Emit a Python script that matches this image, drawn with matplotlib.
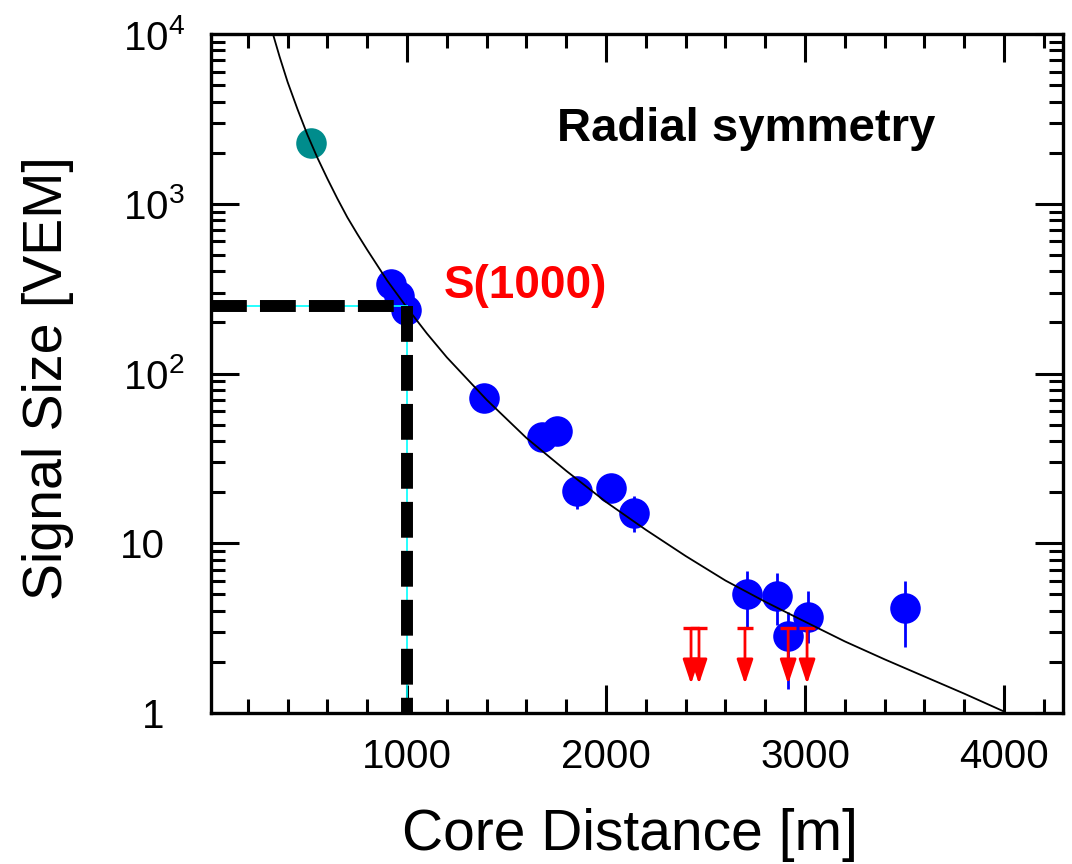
import matplotlib
matplotlib.use("Agg")
import matplotlib.pyplot as plt
from matplotlib.ticker import MultipleLocator, LogLocator, NullFormatter
from matplotlib.transforms import ScaledTranslation

plt.rcParams['font.family'] = ['Liberation Sans', 'DejaVu Sans']
plt.rcParams['mathtext.fontset'] = 'custom'
plt.rcParams['mathtext.rm'] = 'Liberation Sans'
plt.rcParams['mathtext.it'] = 'Liberation Sans:italic'
plt.rcParams['mathtext.bf'] = 'Liberation Sans:bold'

# ---- data ----
# lateral distribution fit curve (core distance [m], signal [VEM])
fit_r = [320, 360, 400, 450, 500, 550, 600, 650, 700, 750, 800, 900, 1000,
         1100, 1200, 1400, 1600, 1800, 2000, 2200, 2400, 2600, 2800, 3000,
         3200, 3400, 3600, 3800, 4000]
fit_s = [10593, 7328, 5212, 3597, 2541, 1862, 1403, 1072, 832, 664, 535, 353, 244,
         172, 124.5, 70.0, 41.7, 26.7, 17.5, 12.0, 8.41, 6.03, 4.52, 3.45,
         2.64, 2.07, 1.64, 1.30, 1.02]

# stations with signal
blue_r = [920, 960, 995, 1387, 1678, 1754, 1854, 2025, 2141, 2709, 2859, 2915, 3015, 3503]
blue_s = [338, 288, 238, 71.3, 42, 45.6, 20.2, 21.1, 15.0, 5.0, 4.87, 2.84, 3.67, 4.15]
blue_lo = [305, 260, 215, 64, 38, 41, 15.9, 18.5, 11.6, 3.12, 3.3, 1.38, 2.6, 2.44]
blue_hi = [370, 315, 262, 78, 46, 50, 24, 24, 19, 6.9, 6.67, 3.93, 5.2, 5.97]

# saturated station
teal_r = [518]
teal_s = [2285]

# silent stations (upper limits)
ul_r = [2427, 2467, 2698, 2915, 3010]
ul_s = [3.16, 3.16, 3.16, 3.16, 3.16]
ul_tip = [1.48, 1.48, 1.48, 1.48, 1.48]

# reference distance and S(1000)
r_ref = 1000
s1000 = 251

xticks = [1000, 2000, 3000, 4000]
xticklabels = ['1000', '2000', '3000', '4000']
yticks = [1, 10, 100, 1000, 10000]
yticklabels = ['1', '10', r'$10^{2}$', r'$10^{3}$', r'$10^{4}$']

xlim = (15, 4296)
ylim = (1, 1e4)

# ---- figure ----
fig = plt.figure(figsize=(10.72, 8.64), dpi=100)
ax = fig.add_axes([211/1072, 1 - 713/864, (1063-211)/1072, (713-34)/864])
ax.set_xlim(*xlim)
ax.set_yscale('log')
ax.set_ylim(*ylim)

# markers
ax.vlines(blue_r, blue_lo, blue_hi, color='#0000ff', lw=2, zorder=2)
ax.plot(blue_r, blue_s, 'o', color='#0000ff', ms=22, mec='none', zorder=2)
ax.plot(teal_r, teal_s, 'o', color='#008c8c', ms=22, mec='none', zorder=2)

# upper limits
ax.plot(ul_r, ul_s, marker='_', ms=11, mew=2.4, ls='none', color='#ff0000', zorder=3)
for r, s, t in zip(ul_r, ul_s, ul_tip):
    ax.annotate('', xy=(r, t), xytext=(r, s),
                arrowprops=dict(arrowstyle='-|>,head_length=1.5,head_width=0.5',
                                color='#ff0000', lw=2, shrinkA=0, shrinkB=0),
                zorder=3)

# fit curve
ax.plot(fit_r, fit_s, color='black', lw=1.3, zorder=4)

# S(1000) guide lines
ax.plot([xlim[0], r_ref], [s1000, s1000], color='#00ffff', lw=1.2, zorder=4)
ax.plot([r_ref, r_ref], [s1000, ylim[0]], color='#00ffff', lw=1.2, zorder=4)
ax.plot([xlim[0], r_ref], [s1000, s1000], color='black', lw=8.6,
        dashes=(3.0, 1.1), solid_capstyle='butt', dash_capstyle='butt', zorder=5)
ax.plot([r_ref, r_ref], [s1000, ylim[0]], color='black', lw=8.6,
        dashes=(3.0, 1.1), solid_capstyle='butt', dash_capstyle='butt', zorder=5)

# ticks
ax.set_xticks(xticks)
ax.set_xticklabels(xticklabels)
ax.xaxis.set_minor_locator(MultipleLocator(200))
ax.set_yticks(yticks)
ax.set_yticklabels(yticklabels)
ax.yaxis.set_minor_locator(LogLocator(base=10, subs=[2, 3, 4, 5, 6, 7, 8, 9]))
ax.yaxis.set_minor_formatter(NullFormatter())
ax.tick_params(which='both', direction='in', top=True, right=True, width=2.2, colors='black')
ax.tick_params(which='major', length=20)
ax.tick_params(which='minor', length=10)
ax.tick_params(axis='x', which='major', labelsize=29, pad=18)
ax.tick_params(axis='y', which='major', labelsize=29, pad=19)
for sp in ax.spines.values():
    sp.set_linewidth(2.4)

# plain labels (no exponent) sit further left, like the reference
shift = ScaledTranslation(-0.2, 0, fig.dpi_scale_trans)
for lab in ax.get_yticklabels():
    if '^' not in lab.get_text():
        lab.set_transform(lab.get_transform() + shift)

# texts
ax.text((746-211)/852, (713-141)/679, 'Radial symmetry', transform=ax.transAxes,
        ha='center', va='baseline', fontsize=34, fontweight='bold', color='black')
ax.text((525-211)/852, (713-298)/679, 'S(1000)', transform=ax.transAxes,
        ha='center', va='baseline', fontsize=33, fontweight='bold', color='#ff0000')

fig.text(630/1072, 2/864, 'Core Distance [m]', ha='center', va='bottom',
         fontsize=41, color='black')
fig.text(48/1072, 1 - 378/864, 'Signal Size [VEM]', ha='center', va='center',
         rotation=90, fontsize=40, color='black')

fig.savefig('out.png', dpi=100)
